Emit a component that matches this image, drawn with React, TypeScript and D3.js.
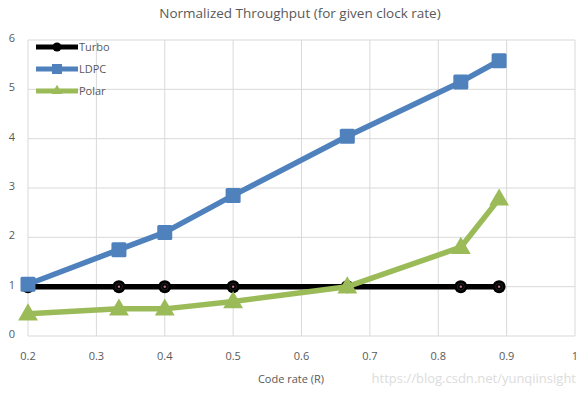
import React from 'react';
import * as d3 from 'd3';

const codeRates = [0.2, 0.333, 0.4, 0.5, 0.667, 0.833, 0.889];
const turbo = [1, 1, 1, 1, 1, 1, 1];
const ldpc = [1.05, 1.75, 2.1, 2.85, 4.05, 5.15, 5.58];
const polar = [0.45, 0.55, 0.55, 0.7, 1.0, 1.8, 2.78];
const xTicks = [0.2, 0.3, 0.4, 0.5, 0.6, 0.7, 0.8, 0.9, 1];
const yTicks = [0, 1, 2, 3, 4, 5, 6];

const series = [
  { name: 'Turbo', values: turbo, color: '#000000', marker: 'circle' },
  { name: 'LDPC', values: ldpc, color: '#4f81bd', marker: 'square' },
  { name: 'Polar', values: polar, color: '#9bbb59', marker: 'triangle' },
];

const width = 588;
const height = 394;
const margin = { top: 40, right: 13, bottom: 58, left: 28 };
const font = '"Open Sans", "Liberation Sans", sans-serif';

const x = d3.scaleLinear().domain([0.2, 1]).range([margin.left, width - margin.right]);
const y = d3.scaleLinear().domain([0, 6]).range([height - margin.bottom, margin.top]);

const Marker: React.FC<{ kind: string; cx: number; cy: number; color: string }> = ({ kind, cx, cy, color }) => {
  if (kind === 'circle') {
    return (
      <g>
        <circle cx={cx} cy={cy} r={6.5} fill="#000" />
        <circle cx={cx} cy={cy} r={3.5} fill="none" stroke="#222" strokeWidth={1} />
        <circle cx={cx} cy={cy} r={1.2} fill="#c9748a" />
      </g>
    );
  }
  if (kind === 'square') {
    return <rect x={cx - 7.5} y={cy - 7.5} width={15} height={15} rx={1.5} fill={color} />;
  }
  const sym = d3.symbol().type(d3.symbolTriangle).size(170)();
  return <path d={sym || undefined} transform={`translate(${cx},${cy + 1})`} fill={color} />;
};

export default function App() {
  const line = d3.line<number>()
    .x((_, i) => x(codeRates[i]))
    .y(d => y(d));

  return (
    <svg width={width} height={height} style={{ display: 'block', position: 'absolute', left: 0, top: 0, background: '#fff' }}>
      <text x={300} y={18} textAnchor="middle" fontFamily={font} fontSize={13.5} fill="#595959">
        Normalized Throughput (for given clock rate)
      </text>

      {/* grid */}
      {yTicks.map(t => (
        <line key={'gy' + t} x1={x(0.2)} x2={x(1)} y1={y(t)} y2={y(t)} stroke="#d9d9d9" strokeWidth={1} />
      ))}
      {xTicks.map(t => (
        <line key={'gx' + t} x1={x(t)} x2={x(t)} y1={y(0)} y2={y(6)} stroke="#d9d9d9" strokeWidth={1} />
      ))}

      {/* tick labels */}
      {yTicks.map(t => (
        <text key={'ty' + t} x={12} y={y(t) - 2} dy="0.35em" textAnchor="middle" fontFamily={font} fontSize={11} fill="#595959">
          {t}
        </text>
      ))}
      {xTicks.map(t => (
        <text key={'tx' + t} x={x(t)} y={y(0) + 24} textAnchor="middle" fontFamily={font} fontSize={11} fill="#595959">
          {d3.format('~g')(t)}
        </text>
      ))}

      <text x={291} y={383} textAnchor="middle" fontFamily={font} fontSize={11} fill="#595959">
        Code rate (R)
      </text>
      <text x={576} y={383} textAnchor="end" fontFamily={font} fontSize={13} fill="#dcdcdc">
        https://blog.csdn.net/yunqiinsight
      </text>

      {/* series */}
      {series.map(s => (
        <g key={s.name}>
          <path d={line(s.values) || undefined} fill="none" stroke={s.color} strokeWidth={5.5} strokeLinejoin="round" />
          {s.values.map((v, i) => (
            <Marker key={i} kind={s.marker} cx={x(codeRates[i])} cy={y(v)} color={s.color} />
          ))}
        </g>
      ))}

      {/* legend */}
      {series.map((s, i) => {
        const ly = 47 + i * 22;
        return (
          <g key={'lg' + s.name}>
            <line x1={36} x2={78} y1={ly} y2={ly} stroke={s.color} strokeWidth={5} />
            {s.marker === 'circle' && <circle cx={57} cy={ly} r={4.5} fill="#000" />}
            {s.marker === 'square' && <rect x={52} y={ly - 5} width={10} height={10} fill={s.color} />}
            {s.marker === 'triangle' && <path d={d3.symbol().type(d3.symbolTriangle).size(50)() || undefined} transform={`translate(57,${ly})`} fill={s.color} />}
            <text x={79} y={ly} dy="0.35em" fontFamily={font} fontSize={11} fill="#595959">{s.name}</text>
          </g>
        );
      })}
    </svg>
  );
}
